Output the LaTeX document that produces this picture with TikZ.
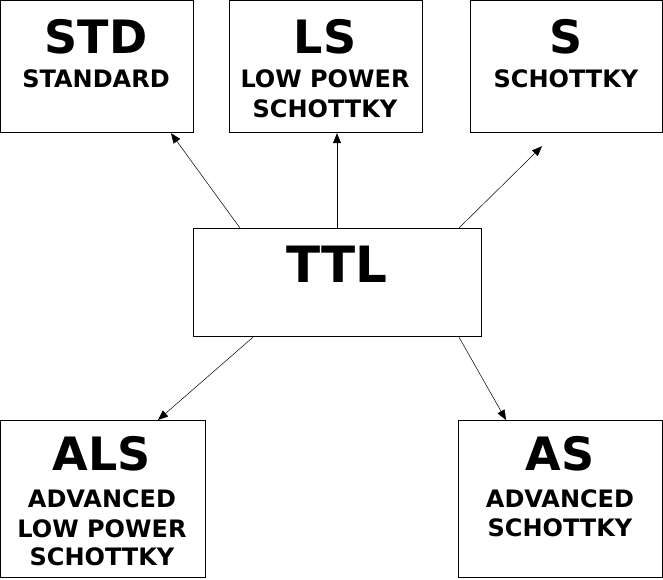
\documentclass[tikz,border=0pt]{standalone}
\usepackage{fontspec}
\setmainfont{DejaVu Sans}
\usetikzlibrary{shapes,arrows,arrows.meta}
\tikzset{
  family/.style={draw,line width=1.2pt,anchor=north west,inner sep=0pt},
  bigname/.style={anchor=base,inner sep=0pt,font=\fontsize{46}{46}\selectfont\bfseries},
  subname/.style={anchor=base,inner sep=0pt,font=\fontsize{24}{24}\selectfont\bfseries},
}
\begin{document}
\begin{tikzpicture}[x=1pt,y=-1pt]
\useasboundingbox (0,0) rectangle (663,579);

% to draw family boxes
\node [family,minimum width=193pt,minimum height=132pt] (std) at (0,0) {};
\node [family,minimum width=193pt,minimum height=132pt] (ls) at (229,0) {};
\node [family,minimum width=192pt,minimum height=132pt] (s) at (470,0) {};
\node [family,minimum width=288pt,minimum height=108pt] (ttl) at (193,228) {};
\node [family,minimum width=205pt,minimum height=157pt] (als) at (0,420) {};
\node [family,minimum width=204pt,minimum height=157pt] (as) at (458,420) {};

% to write family names
\node [bigname] (stdname) at (96,53) {STD};
\node [subname] (stdsub) at (96,87) {STANDARD};

\node [bigname] (lsname) at (325,53) {LS};
\node [subname] (lssuba) at (325,87) {LOW POWER};
\node [subname] (lssubb) at (325,117) {SCHOTTKY};

\node [bigname] (sname) at (566,53) {S};
\node [subname] (ssub) at (566,87) {SCHOTTKY};

\node [bigname,font=\fontsize{50}{50}\selectfont\bfseries] (ttlname) at (337,282) {TTL};

\node [bigname] (alsname) at (102,470) {ALS};
\node [subname] (alssuba) at (102,507) {ADVANCED};
\node [subname] (alssubb) at (102,537) {LOW POWER};
\node [subname] (alssubc) at (102,565) {SCHOTTKY};

\node [bigname] (asname) at (560,470) {AS};
\node [subname] (assuba) at (560,507) {ADVANCED};
\node [subname] (assubb) at (560,536) {SCHOTTKY};

% to draw arrows from TTL
\draw [->,>={Triangle[length=10pt,width=8pt]},line width=0.5pt] ([xshift=47pt]ttl.north west) -- ([xshift=171pt]std.south west);
\draw [->,>={Triangle[length=10pt,width=8pt]},line width=0.5pt] ([xshift=144pt]ttl.north west) -- ([xshift=108pt]ls.south west);
\draw [->,>={Triangle[length=10pt,width=8pt]},line width=0.5pt] ([xshift=266pt]ttl.north west) -- ([xshift=72pt,yshift=-13pt]s.south west);
\draw [->,>={Triangle[length=10pt,width=8pt]},line width=0.5pt] ([xshift=60pt]ttl.south west) -- ([xshift=158pt]als.north west);
\draw [->,>={Triangle[length=10pt,width=8pt]},line width=0.5pt] ([xshift=266pt]ttl.south west) -- ([xshift=48pt]as.north west);
\end{tikzpicture}
\end{document}
